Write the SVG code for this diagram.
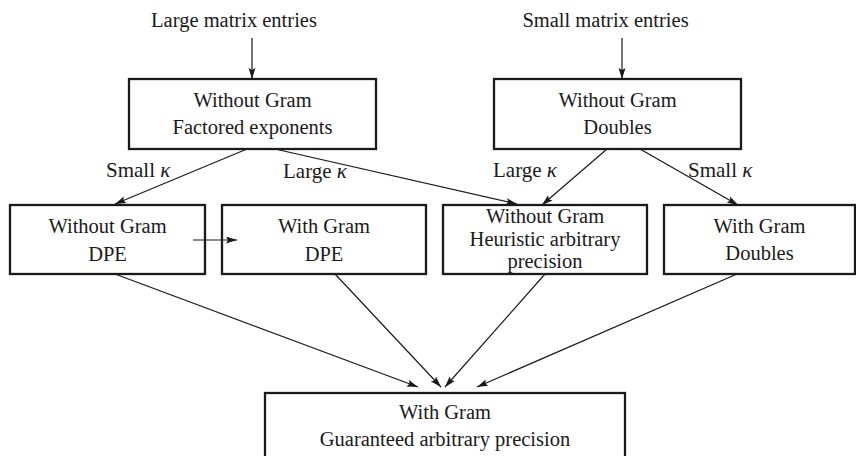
<svg xmlns="http://www.w3.org/2000/svg" width="856" height="456" viewBox="0 0 856 456">
<defs>
<style>
.box{fill:#fff;stroke:#1a1a1a;stroke-width:2.3}
.t{font-family:"Liberation Serif","Times New Roman",serif;font-size:20.5px;fill:#1a1a1a;text-anchor:middle}
.k{font-family:"Liberation Serif","Times New Roman",serif;font-size:21px;fill:#1a1a1a}
.c{stroke:#1a1a1a;stroke-width:1.2;fill:none;marker-end:url(#ah)}
</style>
<marker id="ah" markerUnits="userSpaceOnUse" markerWidth="12" markerHeight="8" refX="11" refY="3.5" orient="auto">
<path d="M0,0 L11,3.5 L0,7 L2,3.5 z" fill="#1a1a1a"/>
</marker>
</defs>
<rect width="856" height="456" fill="#fff"/>
<text class="t" x="234" y="27">Large matrix entries</text>
<text class="t" x="605.5" y="27">Small matrix entries</text>
<g id="connectors">
<line class="c" x1="252" y1="38" x2="252" y2="79"/>
<line class="c" x1="622" y1="38" x2="622" y2="79"/>
<line class="c" x1="247" y1="149" x2="115" y2="204"/>
<line class="c" x1="275" y1="149" x2="517" y2="204"/>
<line class="c" x1="607" y1="149" x2="542" y2="205"/>
<line class="c" x1="640" y1="149" x2="738" y2="205"/>
<line class="c" x1="115" y1="274" x2="418" y2="387"/>
<line class="c" x1="335" y1="274" x2="441" y2="387"/>
<line class="c" x1="545" y1="274" x2="445" y2="387"/>
<line class="c" x1="737" y1="274" x2="477" y2="387"/>
<text class="k" x="106" y="177">Small <tspan font-style="italic">κ</tspan></text>
<text class="k" x="283" y="178">Large <tspan font-style="italic">κ</tspan></text>
<text class="k" x="493" y="177">Large <tspan font-style="italic">κ</tspan></text>
<text class="k" x="688" y="177">Small <tspan font-style="italic">κ</tspan></text>
</g>
<g id="n-wo-fact">
<rect class="box" x="129" y="79" width="247" height="70"/>
<text class="t" x="252.5" y="107">Without Gram</text>
<text class="t" x="252.5" y="134">Factored exponents</text>
</g>
<g id="n-wo-doubles">
<rect class="box" x="494" y="79" width="247" height="70"/>
<text class="t" x="617.5" y="107">Without Gram</text>
<text class="t" x="617.5" y="134">Doubles</text>
</g>
<g id="n-wo-dpe">
<rect class="box" x="10" y="205" width="195" height="69"/>
<text class="t" x="107.5" y="233">Without Gram</text>
<text class="t" x="107.5" y="261">DPE</text>
</g>
<g id="n-w-dpe">
<rect class="box" x="222" y="205" width="204" height="69"/>
<text class="t" x="324" y="233">With Gram</text>
<text class="t" x="324" y="261">DPE</text>
</g>
<g id="n-wo-heur">
<rect class="box" x="443" y="205" width="204" height="69"/>
<text class="t" x="545" y="223">Without Gram</text>
<text class="t" x="545" y="246">Heuristic arbitrary</text>
<text class="t" x="545" y="268">precision</text>
</g>
<g id="n-w-doubles">
<rect class="box" x="664" y="205" width="191" height="69"/>
<text class="t" x="759.5" y="233">With Gram</text>
<text class="t" x="759.5" y="260">Doubles</text>
</g>
<g id="n-w-guar">
<rect class="box" x="265" y="393" width="360" height="80"/>
<text class="t" x="445" y="419">With Gram</text>
<text class="t" x="445" y="446">Guaranteed arbitrary precision</text>
</g>
<g id="connectors-top">
<line class="c" x1="193" y1="240" x2="237" y2="240"/>
</g>
</svg>
